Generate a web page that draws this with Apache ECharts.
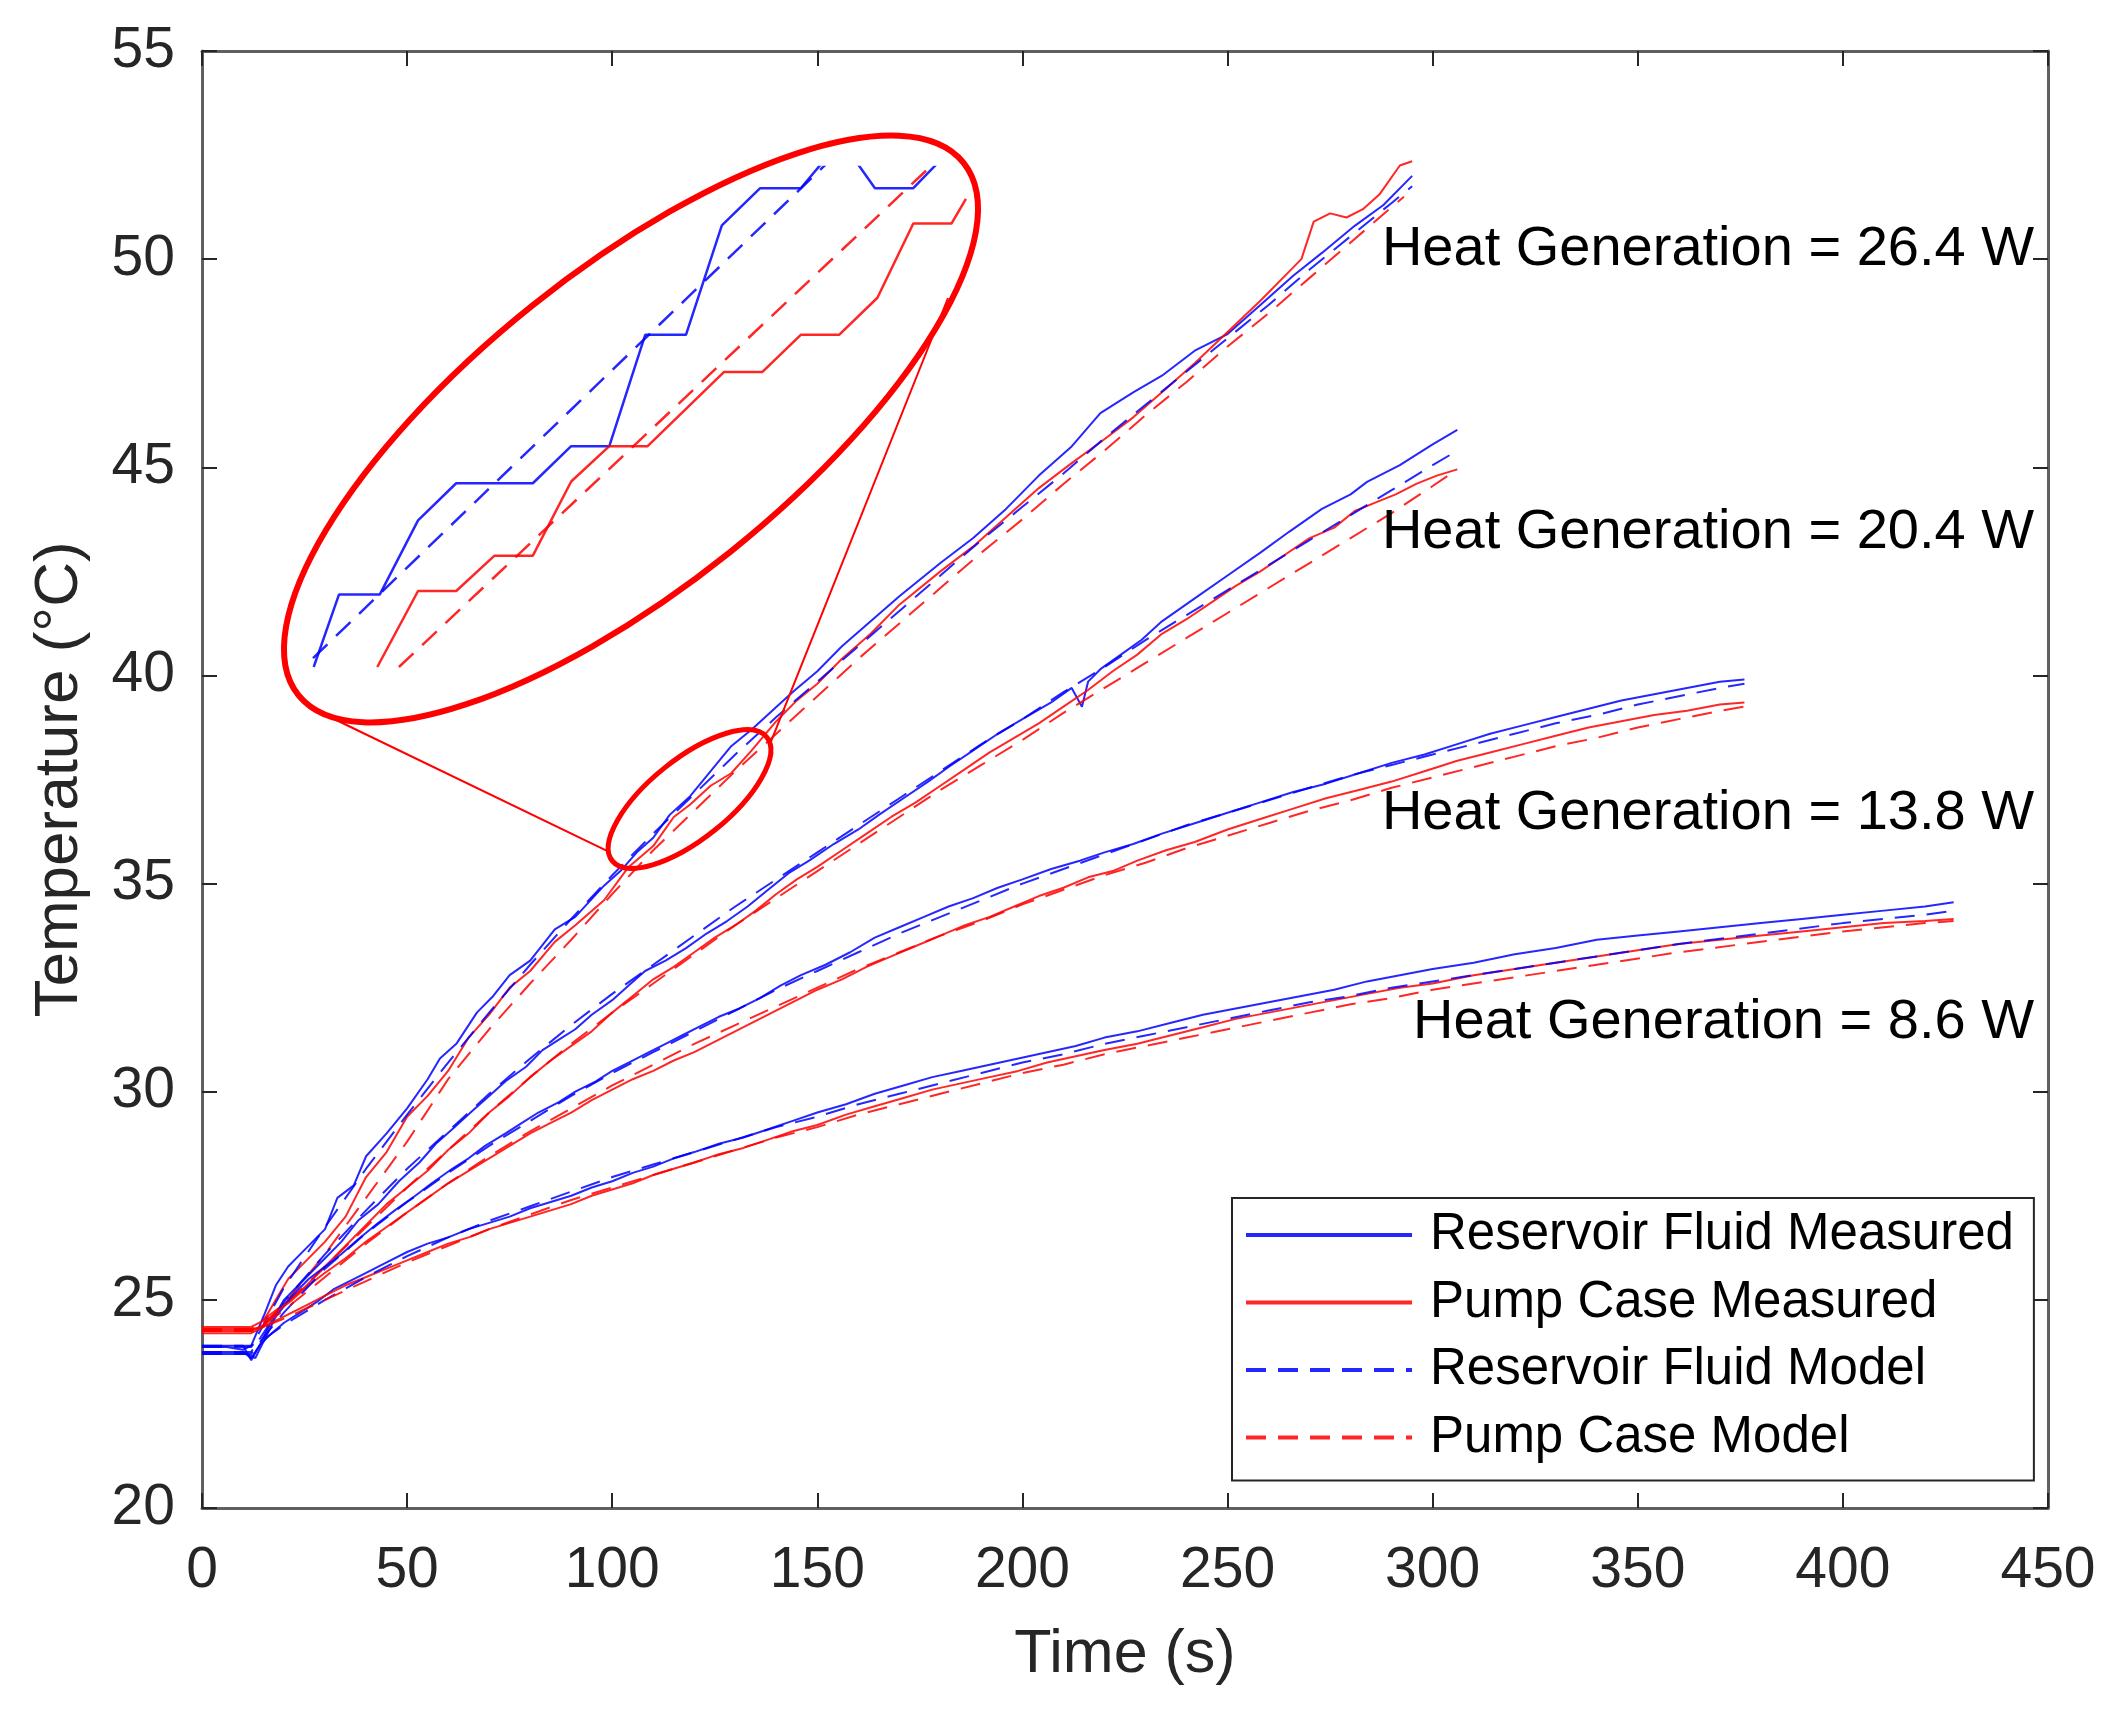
<!DOCTYPE html>
<html>
<head>
<meta charset="utf-8">
<title>Temperature vs time</title>
<script src="https://cdn.jsdelivr.net/npm/echarts@6/dist/echarts.min.js"></script>
<style>
  html, body { margin: 0; padding: 0; background: #fff; }
  #chart { width: 2117px; height: 1714px; }
</style>
</head>
<body>
<div id="chart"></div>
<script>
// values, [time (s), temperature (°C)]

// 26.4 W
var res264 = [[0,23.87],[6,23.87],[10,23.8],[12,23.9],[15,24.6],[18,25.35],[21,25.8],[25,26.2],[30,26.7],[33,27.45],[37,27.75],[40,28.45],[45,29.0],[50,29.6],[55,30.3],[58,30.8],[62,31.15],[67,31.9],[71,32.3],[75,32.8],[80,33.15],[86,33.9],[91,34.2],[98,34.95],[102,35.3],[106,35.75],[110,36.1],[114,36.65],[119,37.1],[124,37.7],[129,38.3],[134,38.7],[139,39.15],[144,39.6],[150,40.1],[156,40.7],[163,41.3],[170,41.9],[180,42.7],[188,43.3],[196,44.0],[204,44.8],[212,45.5],[219,46.3],[227,46.8],[234,47.2],[242,47.8],[250,48.2],[258,48.9],[266,49.6],[273,50.15],[281,50.8],[288,51.3],[295,52.0]];
var pump264 = [[0,24.35],[6,24.35],[12,24.35],[15,24.5],[18,25.0],[21,25.5],[25,25.9],[30,26.4],[35,27.0],[40,27.95],[45,28.55],[50,29.4],[55,29.9],[60,30.5],[65,31.3],[70,31.85],[75,32.5],[80,32.9],[86,33.6],[91,34.0],[98,34.6],[104,35.4],[110,35.9],[115,36.6],[119,36.9],[124,37.35],[129,37.65],[134,38.2],[140,38.9],[145,39.4],[150,39.8],[156,40.4],[163,41.0],[170,41.7],[180,42.5],[188,43.1],[196,43.8],[204,44.5],[212,45.1],[219,45.6],[227,46.2],[234,46.8],[242,47.5],[250,48.25],[258,49.0],[265,49.7],[268,50.0],[271,50.9],[275,51.1],[279,51.0],[283,51.2],[287,51.55],[292,52.25],[295,52.35]];
var resModel264 = [[0,23.87],[12,23.87],[15,24.4],[20,25.3],[30,26.75],[40,28.15],[50,29.45],[60,30.7],[70,31.9],[80,33.05],[90,34.15],[100,35.2],[110,36.2],[120,37.15],[130,38.1],[140,39.0],[150,39.85],[160,40.7],[170,41.55],[180,42.4],[190,43.25],[200,44.05],[210,44.85],[220,45.7],[230,46.5],[240,47.3],[250,48.1],[260,48.9],[270,49.75],[280,50.55],[290,51.35],[295,51.75]];
var pumpModel264 = [[0,24.3],[12,24.3],[20,24.9],[30,26.1],[40,27.45],[50,28.8],[60,30.3],[70,31.5],[80,32.6],[90,33.65],[100,34.75],[110,35.8],[120,36.75],[130,37.7],[140,38.6],[150,39.5],[160,40.4],[170,41.25],[180,42.1],[190,42.95],[200,43.75],[210,44.6],[220,45.4],[230,46.25],[240,47.05],[250,47.9],[260,48.7],[270,49.55],[280,50.4],[290,51.25],[293,51.5]];

// 20.4 W
var res204 = [[0,23.75],[10,23.75],[12,23.6],[14,23.9],[17,24.5],[20,25.0],[25,25.5],[30,26.0],[34,26.4],[38,26.9],[43,27.3],[48,27.85],[53,28.3],[57,28.75],[61,29.1],[66,29.55],[70,29.9],[74,30.25],[79,30.6],[83,31.0],[87,31.25],[91,31.5],[95,31.85],[100,32.2],[104,32.55],[108,32.9],[113,33.15],[118,33.45],[123,33.8],[128,34.1],[133,34.45],[138,34.85],[143,35.25],[148,35.55],[154,35.95],[160,36.3],[165,36.65],[171,37.05],[177,37.45],[182,37.8],[188,38.2],[194,38.6],[200,38.95],[207,39.35],[212,39.7],[214.5,39.25],[216,39.85],[219,40.15],[224,40.5],[229,40.85],[234,41.3],[242,41.85],[250,42.4],[258,42.95],[265,43.45],[273,44.0],[280,44.35],[284,44.65],[292,45.05],[300,45.55],[306,45.9]];
var pump204 = [[0,24.25],[12,24.25],[15,24.4],[20,24.9],[25,25.3],[30,25.8],[35,26.3],[40,26.8],[45,27.3],[50,27.7],[55,28.1],[60,28.6],[65,29.0],[70,29.5],[75,29.9],[80,30.35],[85,30.75],[90,31.1],[95,31.45],[100,31.9],[105,32.3],[110,32.7],[115,33.0],[120,33.35],[125,33.7],[130,34.0],[135,34.35],[140,34.75],[145,35.1],[150,35.4],[156,35.8],[162,36.2],[168,36.6],[174,36.95],[180,37.35],[186,37.75],[192,38.15],[198,38.5],[204,38.85],[210,39.25],[216,39.65],[222,40.1],[228,40.5],[234,41.0],[240,41.35],[246,41.75],[252,42.15],[258,42.5],[264,42.9],[270,43.3],[276,43.55],[281,43.95],[286,44.15],[291,44.35],[296,44.6],[301,44.8],[306,44.95]];
var resModel204 = [[0,23.75],[12,23.75],[15,24.2],[20,24.95],[30,26.1],[40,27.15],[50,28.15],[60,29.05],[70,29.95],[80,30.8],[90,31.6],[100,32.35],[110,33.05],[120,33.75],[130,34.45],[140,35.1],[150,35.75],[160,36.4],[170,37.05],[180,37.7],[190,38.35],[200,38.95],[210,39.6],[220,40.2],[230,40.85],[240,41.45],[250,42.05],[260,42.65],[270,43.25],[280,43.85],[290,44.45],[300,45.05],[306,45.4]];
var pumpModel204 = [[0,24.25],[12,24.25],[15,24.45],[20,24.85],[30,25.8],[40,26.75],[50,27.7],[60,28.6],[70,29.5],[80,30.35],[90,31.15],[100,31.9],[110,32.6],[120,33.3],[130,34.0],[140,34.65],[150,35.3],[160,35.95],[170,36.6],[180,37.25],[190,37.85],[200,38.45],[210,39.1],[220,39.7],[230,40.3],[240,40.9],[250,41.5],[260,42.1],[270,42.7],[280,43.3],[290,43.9],[300,44.55],[306,44.95]];

// 13.8 W
var res138 = [[0,23.7],[11,23.7],[13,23.6],[15,24.0],[18,24.6],[22,25.1],[26,25.5],[30,25.8],[34,26.1],[38,26.45],[43,26.85],[47,27.15],[52,27.5],[56,27.8],[61,28.15],[65,28.4],[69,28.7],[74,29.0],[78,29.25],[82,29.5],[87,29.75],[91,30.0],[96,30.25],[100,30.5],[104,30.7],[109,30.95],[113,31.15],[117,31.35],[121,31.55],[126,31.8],[131,32.0],[136,32.25],[141,32.55],[146,32.8],[152,33.05],[158,33.35],[164,33.7],[170,33.95],[176,34.2],[182,34.45],[188,34.65],[194,34.9],[200,35.1],[207,35.35],[214,35.55],[220,35.75],[227,35.95],[234,36.2],[242,36.45],[250,36.7],[258,36.95],[266,37.2],[274,37.4],[282,37.65],[290,37.9],[298,38.1],[306,38.35],[314,38.6],[322,38.8],[330,39.0],[338,39.2],[346,39.4],[354,39.55],[362,39.7],[370,39.85],[376,39.9]];
var pump138 = [[0,24.2],[12,24.2],[15,24.35],[18,24.7],[22,25.0],[26,25.35],[30,25.65],[35,26.0],[40,26.4],[45,26.75],[50,27.1],[55,27.45],[60,27.8],[65,28.1],[70,28.4],[75,28.7],[80,29.0],[85,29.25],[90,29.5],[95,29.8],[100,30.05],[105,30.3],[110,30.5],[115,30.75],[120,30.95],[126,31.25],[132,31.55],[138,31.85],[144,32.15],[150,32.45],[156,32.7],[162,33.0],[168,33.25],[174,33.5],[180,33.75],[186,34.0],[192,34.2],[198,34.45],[204,34.7],[210,34.9],[216,35.15],[222,35.3],[228,35.55],[235,35.8],[242,36.0],[250,36.3],[258,36.55],[266,36.8],[274,37.05],[282,37.25],[290,37.45],[298,37.7],[306,37.95],[314,38.15],[322,38.35],[330,38.55],[338,38.75],[346,38.9],[354,39.05],[362,39.15],[370,39.3],[376,39.35]];
var resModel138 = [[0,23.7],[12,23.7],[15,24.1],[20,24.7],[30,25.75],[40,26.6],[50,27.35],[60,28.05],[70,28.7],[80,29.3],[90,29.9],[100,30.45],[110,30.95],[120,31.45],[130,31.95],[140,32.45],[150,32.9],[160,33.35],[170,33.8],[180,34.2],[190,34.6],[200,35.0],[210,35.35],[220,35.7],[230,36.05],[240,36.4],[250,36.7],[260,37.0],[270,37.3],[280,37.6],[290,37.85],[300,38.1],[310,38.35],[320,38.6],[330,38.85],[340,39.05],[350,39.3],[360,39.5],[370,39.7],[376,39.8]];
var pumpModel138 = [[0,24.25],[12,24.25],[15,24.4],[20,24.75],[30,25.55],[40,26.35],[50,27.1],[60,27.8],[70,28.45],[80,29.05],[90,29.6],[100,30.15],[110,30.65],[120,31.15],[130,31.6],[140,32.05],[150,32.5],[160,32.95],[170,33.35],[180,33.75],[190,34.1],[200,34.5],[210,34.85],[220,35.2],[230,35.5],[240,35.85],[250,36.15],[260,36.45],[270,36.75],[280,37.0],[290,37.3],[300,37.55],[310,37.8],[320,38.05],[330,38.3],[340,38.5],[350,38.75],[360,38.95],[370,39.15],[376,39.25]];

// 8.6 W
var res86 = [[0,23.9],[10,23.9],[12,23.55],[14,23.9],[17,24.2],[20,24.45],[24,24.7],[28,24.95],[32,25.25],[36,25.45],[40,25.65],[45,25.9],[50,26.15],[55,26.35],[60,26.5],[65,26.7],[70,26.85],[75,27.0],[80,27.2],[85,27.35],[90,27.5],[95,27.7],[100,27.85],[105,28.05],[110,28.2],[115,28.4],[120,28.55],[126,28.75],[132,28.9],[138,29.1],[144,29.3],[150,29.5],[157,29.7],[164,29.95],[171,30.15],[178,30.35],[185,30.5],[192,30.65],[199,30.8],[206,30.95],[213,31.1],[220,31.3],[228,31.45],[236,31.65],[244,31.85],[252,32.0],[260,32.15],[268,32.3],[276,32.45],[284,32.65],[292,32.8],[300,32.95],[310,33.1],[320,33.3],[330,33.45],[340,33.65],[350,33.75],[360,33.85],[370,33.95],[380,34.05],[390,34.15],[400,34.25],[410,34.35],[420,34.45],[427,34.55]];
var pump86 = [[0,24.3],[12,24.3],[15,24.35],[18,24.5],[22,24.7],[26,24.9],[30,25.1],[35,25.35],[40,25.55],[45,25.75],[50,25.95],[55,26.15],[60,26.35],[65,26.5],[70,26.7],[75,26.85],[80,27.0],[85,27.15],[90,27.3],[95,27.5],[100,27.65],[105,27.8],[110,28.0],[115,28.15],[120,28.3],[126,28.5],[132,28.65],[138,28.85],[144,29.05],[150,29.2],[157,29.45],[164,29.65],[171,29.85],[178,30.05],[185,30.2],[192,30.35],[199,30.5],[206,30.7],[213,30.85],[220,31.0],[228,31.15],[236,31.35],[244,31.55],[252,31.75],[260,31.9],[268,32.05],[276,32.2],[284,32.35],[292,32.5],[300,32.6],[310,32.8],[320,32.95],[330,33.1],[340,33.25],[350,33.4],[360,33.55],[370,33.65],[380,33.75],[390,33.85],[400,33.95],[410,34.05],[420,34.1],[427,34.15]];
var resModel86 = [[0,23.9],[12,23.9],[15,24.05],[20,24.4],[30,25.0],[40,25.55],[50,26.05],[60,26.5],[70,26.9],[80,27.25],[90,27.6],[100,27.95],[110,28.25],[120,28.55],[130,28.85],[140,29.15],[150,29.4],[160,29.7],[170,29.95],[180,30.2],[190,30.45],[200,30.7],[210,30.9],[220,31.15],[230,31.35],[240,31.55],[250,31.75],[260,31.95],[270,32.15],[280,32.3],[290,32.5],[300,32.65],[320,32.95],[340,33.25],[360,33.55],[380,33.8],[400,34.05],[420,34.25],[427,34.35]];
var pumpModel86 = [[0,24.3],[12,24.3],[15,24.35],[20,24.55],[30,25.0],[40,25.45],[50,25.9],[60,26.3],[70,26.7],[80,27.05],[90,27.4],[100,27.7],[110,28.0],[120,28.3],[130,28.6],[140,28.9],[150,29.15],[160,29.45],[170,29.7],[180,29.95],[190,30.2],[200,30.45],[210,30.65],[220,30.9],[230,31.1],[240,31.3],[250,31.5],[260,31.7],[270,31.9],[280,32.1],[290,32.25],[300,32.45],[320,32.75],[340,33.05],[360,33.35],[380,33.6],[400,33.85],[420,34.05],[427,34.1]];

// magnified detail (26.4 W, about 100-138 s) shown in the large ellipse
var insetRes = [[100.64,35.69],[102.09,36.1],[104.43,36.1],[106.63,36.52],[108.82,36.73],[113.22,36.73],[115.42,36.94],[117.61,36.94],[119.67,37.57],[122.01,37.57],[124.07,38.19],[126.27,38.4],[128.6,38.4],[130.39,38.61],[131.35,38.61],[132.86,38.4],[135.06,38.4],[137.12,38.61]];
var insetPump = [[104.29,35.69],[106.63,36.12],[108.82,36.12],[111.02,36.32],[113.22,36.32],[115.42,36.74],[117.61,36.94],[119.81,36.94],[124.2,37.36],[126.4,37.36],[128.6,37.57],[130.8,37.57],[133.0,37.78],[135.06,38.2],[137.25,38.2],[138.08,38.34]];
var insetResModel = [[100.6,35.74],[130.2,38.55]];
var insetPumpModel = [[105.53,35.69],[136.02,38.52]];
var insetTime = [100.6, 138.2];
var insetTemp = [35.69, 38.52];

var seriesNames = ['Reservoir Fluid Measured', 'Pump Case Measured', 'Reservoir Fluid Model', 'Pump Case Model'];
var runs = [
  [res264, pump264, resModel264, pumpModel264],
  [res204, pump204, resModel204, pumpModel204],
  [res138, pump138, resModel138, pumpModel138],
  [res86, pump86, resModel86, pumpModel86]
];
var heatLabels = ['Heat Generation = 26.4 W', 'Heat Generation = 20.4 W', 'Heat Generation = 13.8 W', 'Heat Generation = 8.6 W'];
var heatLabelAt = [[446.6, 50.22], [446.6, 43.42], [446.6, 36.69], [446.6, 31.67]];
var zoomCenter = [118.85, 37.03];

var FONT = '"Liberation Sans", Arial, Helvetica, sans-serif';
var BLUE = 'rgba(0,0,255,0.85)';
var RED = 'rgba(255,0,0,0.85)';
var styles = [
  {color: BLUE, dash: 'solid'},
  {color: RED, dash: 'solid'},
  {color: BLUE, dash: [20, 12]},
  {color: RED, dash: [20, 12]}
];

function lineSeries(k, data, axis, width) {
  return {
    type: 'line',
    name: seriesNames[k],
    data: data,
    xAxisIndex: axis,
    yAxisIndex: axis,
    symbol: 'none',
    showSymbol: false,
    silent: true,
    color: styles[k].color,
    lineStyle: {color: styles[k].color, width: width, type: styles[k].dash}
  };
}

var series = [];
runs.forEach(function (run) {
  run.forEach(function (d, k) { series.push(lineSeries(k, d, 0, 2)); });
});
[insetRes, insetPump, insetResModel, insetPumpModel].forEach(function (d, k) {
  series.push(lineSeries(k, d, 2, 2.5));
});

var boxLine = {show: true, onZero: false, lineStyle: {color: '#606060', width: 3}};
var boxTick = {show: true, inside: true, length: 15, lineStyle: {color: '#262626', width: 2}};

var chart = echarts.init(document.getElementById('chart'));
var option = {
  animation: false,
  backgroundColor: '#fff',
  grid: [
    {left: 202, right: 69, top: 51, bottom: 206},
    {left: 313, top: 167, width: 655, height: 500}
  ],
  legend: {
    data: seriesNames,
    orient: 'vertical',
    left: 1232, top: 1198,
    padding: [9, 20, 15, 12],
    itemGap: 11.5,
    itemWidth: 166,
    itemHeight: 14,
    selectedMode: false,
    backgroundColor: '#fff',
    borderColor: '#262626',
    borderWidth: 2,
    itemStyle: {opacity: 0},
    lineStyle: {width: 4},
    textStyle: {fontSize: 51, color: '#000', fontFamily: FONT, lineHeight: 56, padding: [0, 0, 0, 13]}
  },
  xAxis: [
    {
      type: 'value', gridIndex: 0, position: 'bottom', min: 0, max: 450, interval: 50,
      name: 'Time (s)', nameLocation: 'middle', nameGap: 117,
      nameTextStyle: {fontSize: 61, color: '#262626', fontFamily: FONT},
      axisLine: boxLine, axisTick: boxTick,
      axisLabel: {fontSize: 57, color: '#262626', margin: 35, fontFamily: FONT},
      splitLine: {show: false}
    },
    {
      type: 'value', gridIndex: 0, position: 'top', min: 0, max: 450, interval: 50,
      axisLine: boxLine, axisTick: boxTick, axisLabel: {show: false}, splitLine: {show: false}
    },
    {type: 'value', gridIndex: 1, min: insetTime[0], max: insetTime[1], show: false}
  ],
  yAxis: [
    {
      type: 'value', gridIndex: 0, position: 'left', min: 20, max: 55, interval: 5,
      name: 'Temperature (°C)', nameLocation: 'middle', nameGap: 111,
      nameTextStyle: {fontSize: 62, color: '#262626', fontFamily: FONT},
      axisLine: boxLine, axisTick: boxTick,
      axisLabel: {fontSize: 57, color: '#262626', margin: 27, fontFamily: FONT},
      splitLine: {show: false}
    },
    {
      type: 'value', gridIndex: 0, position: 'right', min: 20, max: 55, interval: 5,
      axisLine: boxLine, axisTick: boxTick, axisLabel: {show: false}, splitLine: {show: false}
    },
    {type: 'value', gridIndex: 1, min: insetTemp[0], max: insetTemp[1], show: false}
  ],
  series: series
};
chart.setOption(option);

// heat labels, zoom callout (small ellipse on the data, large ellipse round the inset, joining lines)
var graphics = heatLabels.map(function (s, i) {
  var p = chart.convertToPixel({gridIndex: 0}, heatLabelAt[i]);
  return {
    type: 'text', z: 90, silent: true, x: p[0], y: p[1],
    style: {text: s, fill: '#000', font: '56px ' + FONT, align: 'right', verticalAlign: 'middle',
      textAlign: 'right', textVerticalAlign: 'middle'}
  };
});
var c = chart.convertToPixel({gridIndex: 0}, zoomCenter);
var tilt = 0.675;
graphics.push(
  {type: 'ellipse', z: 100, silent: true, x: c[0], y: c[1], rotation: tilt,
    shape: {cx: 0, cy: 0, rx: 99, ry: 40},
    style: {fill: 'none', stroke: '#ff0000', lineWidth: 5}},
  {type: 'ellipse', z: 100, silent: true, x: 631, y: 429, rotation: tilt,
    shape: {cx: 0, cy: 0, rx: 426, ry: 158},
    style: {fill: 'none', stroke: '#ff0000', lineWidth: 6}},
  {type: 'line', z: 100, silent: true,
    shape: {x1: 332, y1: 718, x2: c[0] - 82, y2: c[1] + 52},
    style: {stroke: '#ff0000', lineWidth: 2}},
  {type: 'line', z: 100, silent: true,
    shape: {x1: 948, y1: 298, x2: c[0] + 80, y2: c[1] - 54},
    style: {stroke: '#ff0000', lineWidth: 2}}
);
chart.setOption({graphic: graphics});
</script>
</body>
</html>
